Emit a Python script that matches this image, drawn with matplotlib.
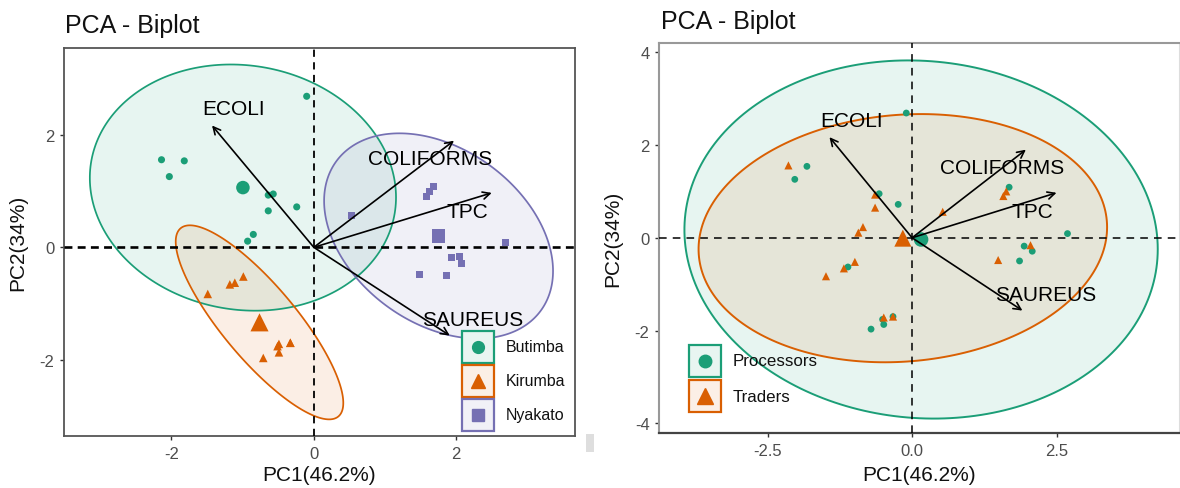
import numpy as np
import matplotlib
matplotlib.use("Agg")
import matplotlib.pyplot as plt
from matplotlib.patches import Polygon, Rectangle
from matplotlib.lines import Line2D
from matplotlib.colors import to_rgb

plt.rcParams['font.family'] = ['Liberation Sans', 'DejaVu Sans']
plt.rcParams['axes.unicode_minus'] = False

# ---------------- data (PCA individual scores) ----------------
pc1 = [-2.14, -1.82, -2.03, -0.64, -0.57, -0.24, -0.64, -0.85, -0.93, -0.10,
       -1.49, -1.18, -1.11, -0.99, -0.51, -0.49, -0.33, -0.71, -0.33, -0.49,
       1.68, 1.63, 1.58, 0.53, 2.69, 1.94, 2.05, 2.08, 1.49, 1.86]
pc2 = [1.56, 1.54, 1.26, 0.93, 0.95, 0.72, 0.65, 0.23, 0.11, 2.69,
       -0.83, -0.66, -0.63, -0.52, -1.76, -1.87, -1.70, -1.97, -1.70, -1.72,
       1.09, 1.00, 0.90, 0.56, 0.09, -0.18, -0.16, -0.29, -0.48, -0.50]
location = ["Butimba"] * 10 + ["Kirumba"] * 10 + ["Nyakato"] * 10
role = ["Traders", "Processors", "Processors", "Traders", "Processors",
        "Processors", "Traders", "Traders", "Traders", "Processors",
        "Traders", "Traders", "Processors", "Traders", "Processors",
        "Processors", "Traders", "Processors", "Processors", "Traders",
        "Processors", "Traders", "Traders", "Traders", "Processors",
        "Processors", "Traders", "Processors", "Traders", "Processors"]

# variable loadings (arrow tips)
variables = ["ECOLI", "COLIFORMS", "TPC", "SAUREUS"]
var_pc1 = [-1.43, 1.97, 2.50, 1.91]
var_pc2 = [2.17, 1.90, 0.97, -1.57]

x_title = "PC1(46.2%)"
y_title = "PC2(34%)"
title = "PCA - Biplot"

locations = ["Butimba", "Kirumba", "Nyakato"]
roles = ["Processors", "Traders"]

# ---------------- styles ----------------
GREEN, ORANGE, PURPLE = "#1B9E77", "#D95F02", "#7570B3"
W, H = 1180, 489


def fx(px):
    return px / W


def fy(py):
    return 1 - py / H


def tint(c, a=0.1):
    r, g, b = to_rgb(c)
    return (1 - a + a * r, 1 - a + a * g, 1 - a + a * b)


def norm_ellipse(x, y, level=0.95, npts=240):
    pts = np.column_stack([x, y])
    n = len(pts)
    c = pts.mean(axis=0)
    cov = np.cov(pts.T)
    d2 = n - 1
    fq = d2 / 2.0 * ((1 - level) ** (-2.0 / d2) - 1)
    r = np.sqrt(2 * fq)
    L = np.linalg.cholesky(cov)
    t = np.linspace(0, 2 * np.pi, npts)
    e = c[:, None] + r * (L @ np.vstack([np.cos(t), np.sin(t)]))
    return e.T


X = np.array(pc1)
Y = np.array(pc2)

fig = plt.figure(figsize=(W / 100, H / 100), dpi=100)
fig.patch.set_facecolor("white")


def draw_panel(ax, labels, groups, colors, markers, sizes, mean_sizes,
               hline, vline, elw):
    labels = np.array(labels)
    for g, col in zip(groups, colors):
        m = labels == g
        e = norm_ellipse(X[m], Y[m])
        ax.add_patch(Polygon(e, closed=True, facecolor=col, alpha=0.1,
                             edgecolor="none", zorder=1))
        ax.add_patch(Polygon(e, closed=True, facecolor="none",
                             edgecolor=col, lw=elw, zorder=2))
    ax.axhline(0, color="black", zorder=3, **hline)
    ax.axvline(0, color="black", zorder=3, **vline)
    for g, col, mk, s, ms in zip(groups, colors, markers, sizes, mean_sizes):
        m = labels == g
        ax.scatter(X[m], Y[m], s=s, marker=mk, color=col, edgecolors="none",
                   zorder=4)
        ax.scatter([X[m].mean()], [Y[m].mean()], s=ms, marker=mk, color=col,
                   edgecolors="none", zorder=4)
    offsets = {"ECOLI": (22, 17), "COLIFORMS": (-24, -18),
               "TPC": (-24, -19), "SAUREUS": (23, 16)}
    for name, vx, vy in zip(variables, var_pc1, var_pc2):
        ax.annotate("", xy=(vx, vy), xytext=(0, 0),
                    arrowprops=dict(arrowstyle="->", lw=1.2, color="black",
                                    mutation_scale=13, shrinkA=0, shrinkB=0),
                    zorder=5)
        ax.annotate(name, xy=(vx, vy), xytext=offsets[name],
                    textcoords="offset pixels", ha="center", va="center",
                    fontsize=15, color="black", zorder=6)
    ax.set_xlabel(x_title, fontsize=15, color="#111111")
    ax.set_ylabel(y_title, fontsize=15, color="#111111")
    ax.tick_params(labelsize=12, labelcolor="#4D4D4D", color="#333333",
                   length=3, width=1, pad=4)


# ---------------- left panel ----------------
axL = fig.add_axes([fx(64), fy(437), fx(575) - fx(64), fy(49) - fy(437)])
draw_panel(axL, location, locations, [GREEN, ORANGE, PURPLE],
           ["o", "^", "s"], [26, 38, 24], [95, 170, 95],
           dict(lw=1.9, ls=(0, (3, 2))), dict(lw=1.3, ls=(0, (4, 3))), 1.25)
axL.set_xlim(-3.51, 3.67)
axL.set_ylim(-3.36, 3.55)
axL.set_xticks([-2, 0, 2])
axL.set_yticks([-2, 0, 2])
for sp in axL.spines.values():
    sp.set_color("#555555")
    sp.set_linewidth(1.3)
axL.xaxis.set_label_coords(0.5, -0.076)
axL.yaxis.set_label_coords(-0.072, 0.5)

# ---------------- right panel ----------------
axR = fig.add_axes([fx(659.3), fy(434), fx(1179) - fx(659.3), fy(44) - fy(434)])
draw_panel(axR, role, roles, [GREEN, ORANGE],
           ["o", "^"], [24, 34], [110, 150],
           dict(lw=1.1, ls=(0, (5, 4))), dict(lw=1.1, ls=(0, (5, 4))), 1.4)
axR.set_xlim(-4.375, 4.62)
axR.set_ylim(-4.21, 4.20)
axR.set_xticks([-2.5, 0.0, 2.5])
axR.set_xticklabels(["-2.5", "0.0", "2.5"])
axR.set_yticks([-4, -2, 0, 2, 4])
axR.spines["left"].set_color("#999999")
axR.spines["left"].set_linewidth(1.5)
axR.spines["top"].set_color("#999999")
axR.spines["top"].set_linewidth(1.5)
axR.spines["bottom"].set_color("#444444")
axR.spines["bottom"].set_linewidth(1.6)
axR.spines["right"].set_color("#dddddd")
axR.spines["right"].set_linewidth(0.8)
axR.xaxis.set_label_coords(0.5, -0.082)
axR.yaxis.set_label_coords(-0.071, 0.5)

# ---------------- titles ----------------
fig.text(fx(65), fy(32.5), title, fontsize=18, va="baseline", ha="left",
         color="#111111")
fig.text(fx(661), fy(29.3), title, fontsize=18, va="baseline", ha="left",
         color="#111111")


# ---------------- legends ----------------
def key(x0, y0, size, col, mk, ms, label, tx, fs):
    fig.add_artist(Rectangle((fx(x0), fy(y0 + size)), size / W, size / H,
                             transform=fig.transFigure, facecolor=tint(col),
                             edgecolor=col, lw=1.6, zorder=10))
    cx, cy = x0 + size / 2, y0 + size / 2
    fig.add_artist(Line2D([fx(cx)], [fy(cy)], transform=fig.transFigure,
                          marker=mk, ms=ms, color=col, ls="none", zorder=11))
    fig.text(fx(tx), fy(cy), label, fontsize=fs, va="center", ha="left",
             color="#111111", zorder=11)


key(462, 332, 31.5, GREEN, "o", 8.5, "Butimba", 506, 11.5)
key(462, 366, 31.5, ORANGE, "^", 10.5, "Kirumba", 506, 11.5)
key(462, 400, 31.5, PURPLE, "s", 8.5, "Nyakato", 506, 11.5)
key(688.5, 346, 32, GREEN, "o", 9, "Processors", 732.5, 12.2)
key(688.5, 381, 32, ORANGE, "^", 11, "Traders", 732.5, 12.2)

# small grey artefact between panels
fig.add_artist(Rectangle((fx(586), fy(453)), 8 / W, 18 / H,
                         transform=fig.transFigure, facecolor="#dedede",
                         edgecolor="none"))

fig.savefig("out.png", dpi=100)
